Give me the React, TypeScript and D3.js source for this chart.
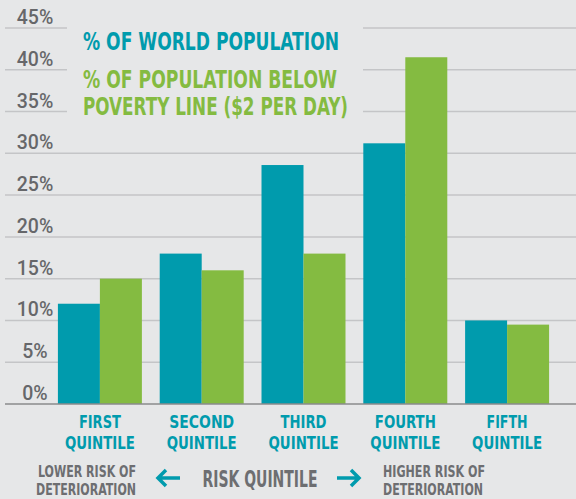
import React, { useEffect } from 'react';
import * as d3 from 'd3';

const width = 576;
const height = 499;

const quintiles = ['FIRST', 'SECOND', 'THIRD', 'FOURTH', 'FIFTH'];
const worldPopulation = [12, 18, 28.6, 31.2, 10];
const belowPoverty = [15, 16, 18, 41.5, 9.5];
const yTicks = [0, 5, 10, 15, 20, 25, 30, 35, 40, 45];

const teal = '#009bad';
const green = '#84bb41';
const gray = '#6d6e71';
const bg = '#e6e7e8';
const cond = "'Liberation Sans Narrow', 'DejaVu Sans Condensed', Roboto, sans-serif";
// measured widths of the first label line, so the condensed look holds
const firstLineWidth: Record<string, number> = { FIRST: 42, SECOND: 65, THIRD: 46, FOURTH: 61, FIFTH: 41 };

const x = d3.scaleBand<string>()
    .domain(quintiles)
    .range([49, 558])
    .paddingInner(0.175)
    .paddingOuter(0.0875);
const sub = d3.scaleBand<string>()
    .domain(['world', 'poverty'])
    .range([0, x.bandwidth()]);
const y = d3.scaleLinear().domain([0, 45]).range([404, 28]);

export default function App() {
    useEffect(() => {
        document.body.style.margin = '0';
    }, []);

    const series = [
        { key: 'world', values: worldPopulation, color: teal },
        { key: 'poverty', values: belowPoverty, color: green },
    ];

    return (
        <svg width={width} height={height} style={{ display: 'block', background: bg }}>
            <rect width={width} height={height} fill={bg} />
            {yTicks.map(t => (
                <g key={t}>
                    {t > 0 && (
                        <line x1={5} x2={width} y1={y(t)} y2={y(t)} stroke="#c4c5c7" strokeWidth={1.5} />
                    )}
                    <text x={35} y={y(t) - 4} textAnchor="middle" fill="#66676a"
                        fontFamily="Roboto, 'Liberation Sans', sans-serif" fontWeight={500} fontSize={19.5}>
                        {t}%
                    </text>
                </g>
            ))}
            {/* legend panel hides the gridlines behind it */}
            <rect x={67} y={18} width={296} height={112} fill={bg} />
            <g fontFamily={cond} fontWeight="bold" fontSize={25}>
                <text x={83} y={50} fill={teal} textLength={256} lengthAdjust="spacingAndGlyphs">% OF WORLD POPULATION</text>
                <text x={83} y={88} fill={green} textLength={254} lengthAdjust="spacingAndGlyphs">% OF POPULATION BELOW</text>
                <text x={83} y={115} fill={green} textLength={265} lengthAdjust="spacingAndGlyphs">POVERTY LINE ($2 PER DAY)</text>
            </g>

            {series.map(s => (
                <g key={s.key} fill={s.color}>
                    {quintiles.map((q, i) => (
                        <rect key={q}
                            x={(x(q) as number) + (sub(s.key) as number)}
                            y={y(s.values[i])}
                            width={sub.bandwidth()}
                            height={y(0) - y(s.values[i])} />
                    ))}
                </g>
            ))}
            <line x1={5} x2={width} y1={y(0)} y2={y(0)} stroke="#8a8b8d" strokeWidth={1.5} />

            {quintiles.map(q => {
                const cx = (x(q) as number) + x.bandwidth() / 2;
                return (
                    <g key={q} fill={teal} fontFamily={cond} fontWeight="bold" fontSize={18.5} textAnchor="middle">
                        <text x={cx} y={428} textLength={firstLineWidth[q]} lengthAdjust="spacingAndGlyphs">{q}</text>
                        <text x={cx} y={449} textLength={70} lengthAdjust="spacingAndGlyphs">QUINTILE</text>
                    </g>
                );
            })}

            <g fill={gray} fontFamily={cond} fontWeight="bold" fontSize={15} textAnchor="middle">
                <text x={87} y={477} textLength={98} lengthAdjust="spacingAndGlyphs">LOWER RISK OF</text>
                <text x={86} y={495} textLength={100} lengthAdjust="spacingAndGlyphs">DETERIORATION</text>
                <text x={434} y={477} textLength={102} lengthAdjust="spacingAndGlyphs">HIGHER RISK OF</text>
                <text x={433} y={495} textLength={100} lengthAdjust="spacingAndGlyphs">DETERIORATION</text>
            </g>
            <text x={260} y={487} fill={gray} fontFamily={cond} fontWeight="bold" fontSize={22.5}
                textAnchor="middle" textLength={115} lengthAdjust="spacingAndGlyphs">RISK QUINTILE</text>
            <g stroke={teal} strokeWidth={3.5} fill="none" strokeLinecap="butt">
                <path d="M158,478H180M166,470L158,478L166,486" />
                <path d="M337,478H359M351,470L359,478L351,486" />
            </g>
        </svg>
    );
}
